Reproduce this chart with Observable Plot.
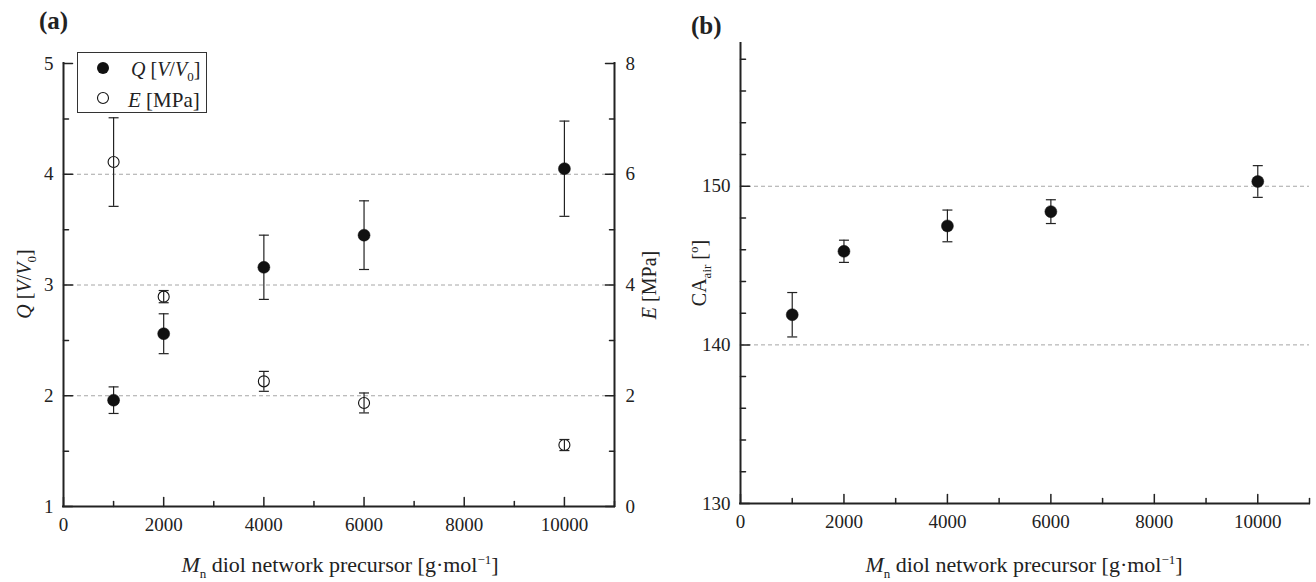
<!DOCTYPE html>
<html>
<head>
<meta charset="utf-8">
<script src="https://cdn.jsdelivr.net/npm/d3@7"></script>
<script src="https://cdn.jsdelivr.net/npm/@observablehq/plot@0.6"></script>
<style>
  body { margin: 0; background: #fff; }
  #wrap { position: relative; width: 1316px; height: 582px; font-family: "Liberation Serif", "Times New Roman", serif; color: #222; }
  .panel { position: absolute; top: 0; }
  .tag { position: absolute; font-weight: bold; font-size: 25px; line-height: 1; }
</style>
</head>
<body>
<div id="wrap"></div>
<script>
// Number-average molar mass of the diol precursor [g/mol]
const mn = [1000, 2000, 4000, 6000, 10000];
// Swelling degree Q [V/V0] and its standard deviation
const swelling = [1.96, 2.56, 3.16, 3.45, 4.05];
const swellingErr = [0.12, 0.18, 0.29, 0.31, 0.43];
// Young's modulus E [MPa] and its standard deviation
const modulus = [6.22, 3.79, 2.26, 1.87, 1.11];
const modulusErr = [0.80, 0.11, 0.18, 0.18, 0.10];
// Air contact angle [deg] and its standard deviation
const contactAngle = [141.9, 145.9, 147.5, 148.4, 150.3];
const contactAngleErr = [1.4, 0.7, 1.0, 0.75, 1.0];

// Axis ranges and tick values
const xDomain = [0, 11000];
const xTicks = [0, 2000, 4000, 6000, 8000, 10000];
const xMinor = [1000, 3000, 5000, 7000, 9000, 11000];
const qDomain = [1, 5];
const qTicks = [1, 2, 3, 4, 5];
const qMinor = [1.5, 2.5, 3.5, 4.5];
const qGrid = [2, 3, 4];
const eTicks = [0, 2, 4, 6, 8];
const eMinor = [1, 3, 5, 7];
const caDomain = [130, 159];
const caTicks = [130, 140, 150];
const caMinor = [132, 134, 136, 138, 142, 144, 146, 148, 152, 154, 156, 158];
const caGrid = [140, 150];

const serif = "'Liberation Serif', 'Times New Roman', serif";
const ink = "#222";
const gridStyle = {stroke: "#a6a6a6", strokeWidth: 1, strokeDasharray: "4,3"};
const axisLine = {stroke: ink, strokeWidth: 2, strokeLinecap: "square"};

// E shares the left scale: 0..8 MPa spans Q = 1..5
const eToQ = e => qDomain[0] + e * (qDomain[1] - qDomain[0]) / (eTicks[eTicks.length - 1] - eTicks[0]);

// Horizontal cap for error bars
const cap = {draw(ctx) { ctx.moveTo(-5, 0); ctx.lineTo(5, 0); }};
// Inward-pointing tick shapes
const tickUp = {draw(ctx, l) { ctx.moveTo(0, 0); ctx.lineTo(0, -l); }};
const tickRight = {draw(ctx, l) { ctx.moveTo(0, 0); ctx.lineTo(l, 0); }};
const tickLeft = {draw(ctx, l) { ctx.moveTo(0, 0); ctx.lineTo(-l, 0); }};
const tickStyle = {stroke: ink, strokeWidth: 1.5, anchor: "start"};

const rowsA = mn.map((m, i) => ({
  m, q: swelling[i], qLo: swelling[i] - swellingErr[i], qHi: swelling[i] + swellingErr[i],
  e: eToQ(modulus[i]), eLo: eToQ(modulus[i] - modulusErr[i]), eHi: eToQ(modulus[i] + modulusErr[i])
}));
const rowsB = mn.map((m, i) => ({
  m, ca: contactAngle[i], lo: contactAngle[i] - contactAngleErr[i], hi: contactAngle[i] + contactAngleErr[i]
}));

const fmt = d => String(d);

function errorBars(data, y1, y2) {
  return [
    Plot.ruleX(data, {x: "m", y1, y2, stroke: ink, strokeWidth: 1.2}),
    Plot.dot(data, {x: "m", y: y1, symbol: cap, stroke: ink, strokeWidth: 1.2, fill: "none"}),
    Plot.dot(data, {x: "m", y: y2, symbol: cap, stroke: ink, strokeWidth: 1.2, fill: "none"})
  ];
}

function xAxisTicks(y0) {
  return [
    Plot.vector(xTicks, {x: d => d, y: y0, length: 9, shape: tickUp, ...tickStyle}),
    Plot.vector(xMinor, {x: d => d, y: y0, length: 5, shape: tickUp, ...tickStyle})
  ];
}

const labels = {fontSize: 19, label: null, tickSize: 0, tickFormat: fmt};

const plotA = Plot.plot({
  width: 680, height: 582,
  marginLeft: 63, marginRight: 66, marginTop: 63, marginBottom: 76,
  x: {domain: xDomain},
  y: {domain: qDomain},
  style: {fontFamily: serif, fontSize: "19px", color: ink, background: "transparent", overflow: "visible"},
  marks: [
    Plot.ruleY(qGrid, gridStyle),
    Plot.axisX(xTicks, {...labels, anchor: "bottom", tickPadding: 11}),
    Plot.axisY(qTicks, {...labels, anchor: "left", tickPadding: 10}),
    Plot.axisY(eTicks.map(eToQ), {...labels, anchor: "right", tickPadding: 11,
      tickFormat: q => fmt(eTicks[eTicks.map(eToQ).indexOf(q)])}),
    ...xAxisTicks(qDomain[0]),
    Plot.vector(qTicks, {x: xDomain[0], y: d => d, length: 9, shape: tickRight, ...tickStyle}),
    Plot.vector(qMinor, {x: xDomain[0], y: d => d, length: 5, shape: tickRight, ...tickStyle}),
    Plot.vector(eTicks, {x: xDomain[1], y: eToQ, length: 9, shape: tickLeft, ...tickStyle}),
    Plot.vector(eMinor, {x: xDomain[1], y: eToQ, length: 5, shape: tickLeft, ...tickStyle}),
    Plot.ruleX([xDomain[0], xDomain[1]], axisLine),
    Plot.ruleY([qDomain[0]], axisLine),
    ...errorBars(rowsA, "qLo", "qHi"),
    Plot.dot(rowsA, {x: "m", y: "q", r: 6, fill: "#111", stroke: "#111", strokeWidth: 0.5}),
    Plot.dot(rowsA, {x: "m", y: "e", r: 5.5, fill: "#fff", stroke: "#111", strokeWidth: 1.1}),
    ...errorBars(rowsA, "eLo", "eHi")
  ]
});

const plotB = Plot.plot({
  width: 656, height: 582,
  marginLeft: 80, marginRight: 7, marginTop: 43, marginBottom: 79,
  x: {domain: xDomain},
  y: {domain: caDomain},
  style: {fontFamily: serif, fontSize: "19px", color: ink, background: "transparent", overflow: "visible"},
  marks: [
    Plot.ruleY(caGrid, gridStyle),
    Plot.axisX(xTicks, {...labels, anchor: "bottom", tickPadding: 11}),
    Plot.axisY(caTicks, {...labels, anchor: "left", tickPadding: 10}),
    ...xAxisTicks(caDomain[0]),
    Plot.vector(caTicks, {x: xDomain[0], y: d => d, length: 9, shape: tickRight, ...tickStyle}),
    Plot.vector(caMinor, {x: xDomain[0], y: d => d, length: 5, shape: tickRight, ...tickStyle}),
    Plot.ruleX([xDomain[0]], axisLine),
    Plot.ruleY([caDomain[0]], axisLine),
    ...errorBars(rowsB, "lo", "hi"),
    Plot.dot(rowsB, {x: "m", y: "ca", r: 6, fill: "#111", stroke: "#111", strokeWidth: 0.5})
  ]
});

const wrap = document.getElementById("wrap");
plotA.classList.add("panel");
plotA.style.left = "0px";
plotB.classList.add("panel");
plotB.style.left = "660px";
wrap.append(plotA, plotB);

// Axis titles with italics, subscripts and superscripts
function title(svg, x, y, rotate, size, parts) {
  const t = d3.select(svg).append("text")
    .attr("transform", `translate(${x},${y})` + (rotate ? " rotate(-90)" : ""))
    .attr("text-anchor", "middle")
    .attr("font-family", serif)
    .attr("font-size", size)
    .attr("fill", ink);
  for (const p of parts) {
    const s = t.append("tspan").text(p.t);
    if (p.i) s.attr("font-style", "italic");
    if (p.dy) s.attr("dy", p.dy);
    if (p.fs) s.attr("font-size", p.fs);
  }
}
const mnTitle = [
  {t: "M", i: true}, {t: "n", dy: 6, fs: 13},
  {t: " diol network precursor [g·mol", dy: -6}, {t: "−1", dy: -8, fs: 13}, {t: "]", dy: 8}
];
title(plotA, 340, 572, false, 22, mnTitle);
title(plotB, 364, 572, false, 22, mnTitle);
title(plotA, 31, 284, true, 20, [
  {t: "Q", i: true}, {t: " ["}, {t: "V", i: true}, {t: "/"}, {t: "V", i: true},
  {t: "0", dy: 5, fs: 13}, {t: "]", dy: -5}
]);
title(plotA, 656, 285, true, 20, [{t: "E", i: true}, {t: " [MPa]"}]);
title(plotB, 46, 273, true, 20, [
  {t: "CA"}, {t: "air", dy: 5, fs: 13}, {t: " [", dy: -5}, {t: "o", dy: -8, fs: 13}, {t: "]", dy: 8}
]);

// Legend for panel (a)
const legend = d3.select(wrap).append("svg")
  .attr("width", 131).attr("height", 62)
  .style("position", "absolute").style("left", "77px").style("top", "52px");
legend.append("rect").attr("x", 0.5).attr("y", 0.5).attr("width", 129).attr("height", 60)
  .attr("fill", "#fff").attr("stroke", "#333").attr("stroke-width", 1);
legend.append("circle").attr("cx", 26).attr("cy", 16).attr("r", 6).attr("fill", "#111");
legend.append("circle").attr("cx", 26).attr("cy", 46).attr("r", 5.5).attr("fill", "#fff")
  .attr("stroke", "#111").attr("stroke-width", 1.1);
const lt1 = legend.append("text").attr("x", 54).attr("y", 24)
  .attr("font-family", serif).attr("font-size", 20).attr("fill", ink);
lt1.append("tspan").attr("font-style", "italic").text("Q");
lt1.append("tspan").text(" [");
lt1.append("tspan").attr("font-style", "italic").text("V");
lt1.append("tspan").text("/");
lt1.append("tspan").attr("font-style", "italic").text("V");
lt1.append("tspan").attr("dy", 5).attr("font-size", 13).text("0");
lt1.append("tspan").attr("dy", -5).text("]");
const lt2 = legend.append("text").attr("x", 51).attr("y", 55)
  .attr("font-family", serif).attr("font-size", 21).attr("fill", ink);
lt2.append("tspan").attr("font-style", "italic").text("E");
lt2.append("tspan").text(" [MPa]");

// Panel tags
const tagA = document.createElement("div");
tagA.className = "tag"; tagA.textContent = "(a)";
tagA.style.left = "39px"; tagA.style.top = "8px";
const tagB = document.createElement("div");
tagB.className = "tag"; tagB.textContent = "(b)";
tagB.style.left = "691px"; tagB.style.top = "13px";
wrap.append(tagA, tagB);
</script>
</body>
</html>
